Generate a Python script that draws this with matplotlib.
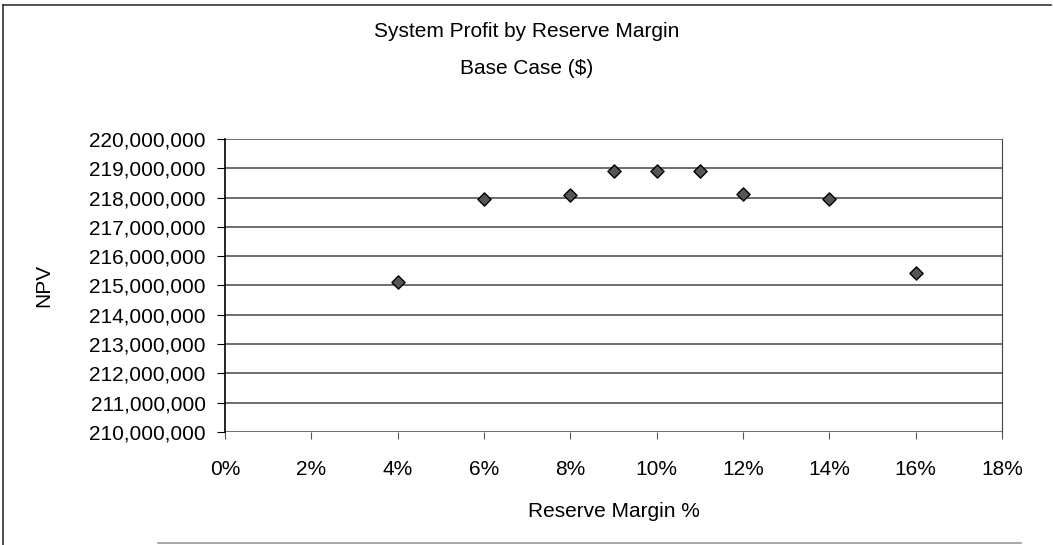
import numpy as np
import matplotlib.pyplot as plt
from matplotlib.ticker import FuncFormatter, MultipleLocator
from matplotlib.lines import Line2D

plt.rcParams['font.family'] = ['Liberation Sans', 'DejaVu Sans']

# reserve margin (fraction) and NPV ($)
reserve_margin = [0.04, 0.06, 0.08, 0.09, 0.10, 0.11, 0.12, 0.14, 0.16]
npv = [215130000, 217940000, 218090000, 218920000, 218920000, 218920000,
       218110000, 217950000, 215440000]

fig = plt.figure(figsize=(10.53, 5.45), dpi=100)
ax = fig.add_axes([0.2137, 0.2073, 0.7379, 0.5377])

ax.scatter(reserve_margin, npv, marker='D', s=45, facecolor='#555555',
           edgecolor='black', linewidth=1.0, zorder=3)

ax.set_xlim(0, 0.18)
ax.set_ylim(210000000, 220000000)
ax.xaxis.set_major_locator(MultipleLocator(0.02))
ax.yaxis.set_major_locator(MultipleLocator(1000000))
ax.xaxis.set_major_formatter(FuncFormatter(lambda v, p: f'{v * 100:.0f}%'))
ax.yaxis.set_major_formatter(FuncFormatter(lambda v, p: f'{v:,.0f}'))

ax.grid(axis='y', color='#555555', linewidth=1.2)
ax.set_axisbelow(True)
for side in ['top', 'bottom']:
    ax.spines[side].set_visible(False)
ax.spines['right'].set_color('#444444')
ax.spines['left'].set_color('black')
ax.spines['left'].set_linewidth(1.2)

ax.tick_params(axis='y', labelsize=15, length=6, pad=8, color='black')
ax.tick_params(axis='x', labelsize=15, length=5, pad=15, color='#555555')

ax.set_xlabel('Reserve Margin %', fontsize=15, labelpad=17)
ax.set_ylabel('NPV', fontsize=15, labelpad=26)

fig.text(0.5, 0.942, 'System Profit by Reserve Margin', ha='center', va='center', fontsize=15)
fig.text(0.5, 0.874, 'Base Case ($)', ha='center', va='center', fontsize=15)

# outer frame of the chart
fig.add_artist(Line2D([0.003, 0.003], [0.0, 0.99], color='#333333', lw=1.2))
fig.add_artist(Line2D([0.003, 0.998], [0.99, 0.99], color='#333333', lw=1.2))
fig.add_artist(Line2D([0.15, 0.97], [0.004, 0.004], color='#999999', lw=1.2))

fig.savefig('out.png', dpi=100)
